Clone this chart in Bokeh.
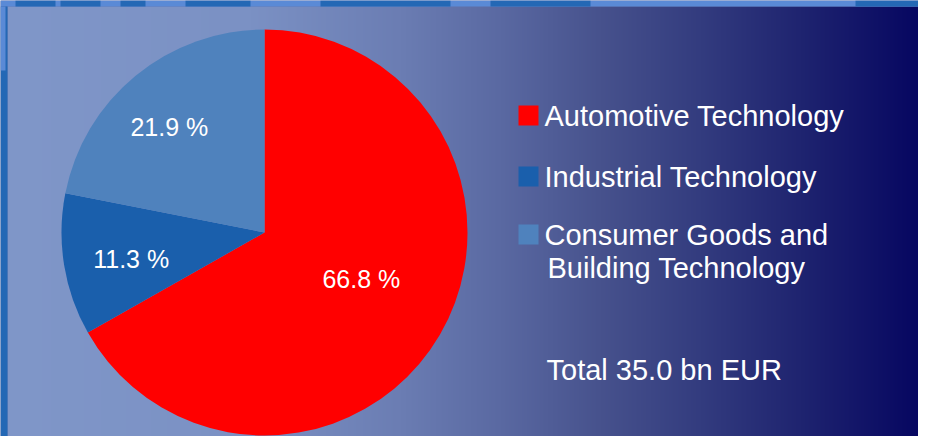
import numpy as np
from bokeh.plotting import figure
from bokeh.models import Range1d
from bokeh.core.properties import value
from bokeh.embed import file_html
from bokeh.resources import INLINE

# ---- data ----
categories = ["Automotive Technology", "Industrial Technology",
              "Consumer Goods and\nBuilding Technology"]
shares = [66.8, 11.3, 21.9]
slice_colors = ["#ff0000", "#1a5fac", "#4f82bd"]
pct_labels = ["66.8 %", "11.3 %", "21.9 %"]
total_label = "Total 35.0 bn EUR"

# ---- layout (reference pixel coords, y measured from top) ----
FW, FH = 918, 436
def Y(y):
    return FH - y

cx, cy, R = 264, 232, 203
label_frac = [0.53, 0.67, 0.70]
label_nudge_deg = [4.4, 2.2, 2.6]
legend_baseline = [126, 187, 245]
line_step = 33
mid_off = 10.5   # cap-centre above baseline
FONT = "Liberation Sans"

p = figure(width=FW, height=FH, output_backend="svg", toolbar_location=None,
           x_range=Range1d(0, FW), y_range=Range1d(0, FH),
           min_border=0, outline_line_color=None)
p.axis.visible = False
p.grid.visible = False
p.background_fill_color = "#6070a8"
p.border_fill_color = "#6070a8"

# background gradient panel
PX0, PY0 = 7, 6
stops_x = [0, 250, 400, 500, 600, 700, 800, 926]
stops_c = [(128, 151, 201), (123, 145, 196), (107, 125, 179), (90, 105, 162),
           (71, 82, 141), (51, 60, 127), (31, 36, 112), (5, 5, 96)]
xs = np.arange(PX0, FW + 1)
img = np.zeros((1, xs.size), dtype=np.uint32)
view = img.view(dtype=np.uint8).reshape((1, xs.size, 4))
for k in range(3):
    view[0, :, k] = np.interp(xs, stops_x, [c[k] for c in stops_c]).astype(np.uint8)
view[0, :, 3] = 255
p.image_rgba(image=[img], x=PX0, y=0, dw=xs.size, dh=Y(PY0))

# frame strips (top map texture, left edge)
LIGHT, DARK = "#5a8ad6", "#2468b5"
p.quad(left=0, right=FW, bottom=Y(PY0), top=FH, fill_color=LIGHT, line_color=None)
dark_l = [15, 60, 120, 185, 320, 490, 855]
dark_r = [55, 100, 145, 250, 450, 590, 920]
p.quad(left=dark_l, right=dark_r, bottom=Y(PY0), top=FH, fill_color=DARK, line_color=None)
p.quad(left=0, right=PX0, bottom=0, top=Y(PY0), fill_color=DARK, line_color=None)
p.quad(left=0, right=PX0 - 2, bottom=Y(70), top=Y(PY0), fill_color=LIGHT, line_color=None)

# pie: starts at 12 o'clock, clockwise
fr = np.array(shares) / np.sum(shares)
ends = np.pi / 2 - np.concatenate([[0], np.cumsum(fr[:-1])]) * 2 * np.pi
starts = ends - fr * 2 * np.pi
p.wedge(x=cx, y=Y(cy), radius=R, start_angle=starts, end_angle=ends,
        fill_color=slice_colors, line_color=None)

mids = (starts + ends) / 2 + np.radians(label_nudge_deg)
lx = cx + np.array(label_frac) * R * np.cos(mids)
ly = Y(cy) + np.array(label_frac) * R * np.sin(mids)
p.text(x=lx, y=ly, text=pct_labels, text_color="white", text_font=value(FONT),
       text_font_size="25px", text_align="center", text_baseline="middle")

# legend
sq = 20
p.quad(left=518, right=518 + sq,
       bottom=[Y(b - 1) for b in legend_baseline],
       top=[Y(b - 1) + sq for b in legend_baseline],
       fill_color=slice_colors, line_color=None)
tx, ty, tt = [], [], []
for b, name in zip(legend_baseline, categories):
    for i, line in enumerate(name.split("\n")):
        tx.append(544 + (3 if i > 0 else 0))
        ty.append(Y(b + i * line_step - mid_off))
        tt.append(line)
p.text(x=tx, y=ty, text=tt, text_color="white", text_font=value(FONT),
       text_font_size="29px", text_align="left", text_baseline="middle")

p.text(x=[546], y=[Y(380 - mid_off)], text=[total_label], text_color="white",
       text_font=value(FONT), text_font_size="29px",
       text_align="left", text_baseline="middle")

open("out.html", "w").write(file_html(p, INLINE))
